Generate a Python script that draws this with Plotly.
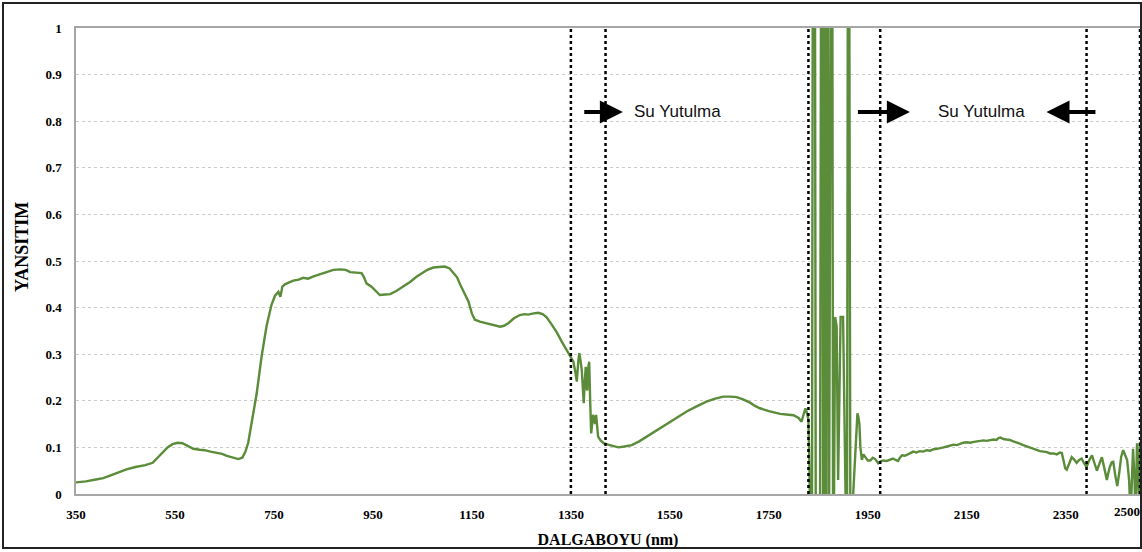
import plotly.graph_objects as go

# ---- data ----
wavelength = [
    350, 370, 390, 405, 420, 440, 452, 470, 490, 505, 515, 525, 535, 545, 555, 565, 575, 587, 600, 610,
    622, 634, 645, 655, 668, 678, 686, 692, 698, 705, 715, 725, 735, 745, 752, 759, 763, 767, 772, 789,
    800, 809, 819, 830, 843, 856, 870, 885, 895, 904, 915, 927, 932, 937, 947, 956, 964, 975, 985, 998,
    1011, 1025, 1038, 1050, 1060, 1072, 1085, 1095, 1105, 1112, 1120, 1127, 1133, 1143, 1150, 1156, 1166, 1180, 1195, 1207,
    1215, 1224, 1235, 1247, 1256, 1264, 1272, 1284, 1293, 1301, 1311, 1321, 1331, 1341, 1348, 1355, 1359, 1362, 1365, 1367,
    1369, 1372, 1374, 1376, 1378, 1380, 1382, 1383, 1385, 1387, 1389, 1391, 1393, 1395, 1397, 1399, 1401, 1403, 1405, 1410,
    1416, 1425, 1436, 1446, 1458, 1473, 1488, 1503, 1523, 1544, 1564, 1584, 1604, 1624, 1640, 1658, 1672, 1685, 1698, 1712,
    1722, 1732, 1750, 1773, 1790, 1800, 1810, 1816, 1820, 1824, 1828, 1830, 1832, 1834, 1837, 1839, 1843, 1845, 1848, 1853,
    1856, 1858, 1860, 1862, 1864, 1865, 1867, 1869, 1871, 1876, 1878, 1880, 1884, 1887, 1890, 1893, 1895, 1900, 1903, 1905,
    1908, 1910, 1912, 1915, 1918, 1921, 1924, 1927, 1929, 1931, 1933, 1935, 1938, 1941, 1944, 1947, 1950, 1955, 1960, 1965,
    1971, 1976, 1981, 1988, 1995, 2001, 2006, 2011, 2015, 2019, 2025, 2032, 2038, 2042, 2048, 2055, 2062, 2069, 2076, 2083,
    2090, 2096, 2103, 2110, 2116, 2123, 2130, 2137, 2143, 2150, 2157, 2164, 2170, 2177, 2184, 2190, 2197, 2204, 2210, 2214,
    2218, 2224, 2230, 2237, 2244, 2250, 2257, 2264, 2271, 2278, 2284, 2291, 2298, 2305, 2312, 2318, 2325, 2332, 2338, 2342,
    2346, 2349, 2352, 2357, 2362, 2367, 2372, 2377, 2382, 2387, 2392, 2397, 2403, 2408, 2413, 2418, 2423, 2428, 2433, 2436,
    2439, 2443, 2446, 2450, 2454, 2458, 2462, 2466, 2470, 2474, 2478, 2481, 2484, 2486, 2489, 2491, 2493, 2494, 2497, 2498,
    2500,
]
reflectance = [
    0.025, 0.027, 0.031, 0.034, 0.040, 0.048, 0.053, 0.058, 0.062, 0.067, 0.078, 0.090, 0.100, 0.107, 0.110, 0.109, 0.103, 0.097, 0.095, 0.094,
    0.091, 0.089, 0.086, 0.082, 0.078, 0.075, 0.078, 0.090, 0.110, 0.150, 0.215, 0.295, 0.360, 0.406, 0.425, 0.434, 0.423, 0.445, 0.450, 0.458,
    0.460, 0.464, 0.462, 0.467, 0.472, 0.477, 0.481, 0.482, 0.481, 0.476, 0.475, 0.474, 0.465, 0.452, 0.445, 0.435, 0.427, 0.428, 0.429, 0.436,
    0.445, 0.455, 0.466, 0.475, 0.481, 0.486, 0.488, 0.488, 0.484, 0.476, 0.465, 0.448, 0.434, 0.413, 0.387, 0.374, 0.370, 0.366, 0.361, 0.359,
    0.361, 0.367, 0.377, 0.384, 0.386, 0.385, 0.387, 0.389, 0.386, 0.379, 0.364, 0.348, 0.328, 0.309, 0.298, 0.284, 0.262, 0.241, 0.285, 0.302,
    0.290, 0.266, 0.230, 0.195, 0.240, 0.273, 0.230, 0.222, 0.270, 0.284, 0.200, 0.130, 0.150, 0.170, 0.160, 0.150, 0.170, 0.145, 0.123, 0.115,
    0.109, 0.106, 0.103, 0.100, 0.102, 0.105, 0.113, 0.123, 0.137, 0.152, 0.165, 0.177, 0.188, 0.198, 0.204, 0.209, 0.209, 0.208, 0.203, 0.196,
    0.189, 0.184, 0.178, 0.172, 0.170, 0.169, 0.163, 0.155, 0.170, 0.184, 0.170, 0.158, 0.060, -0.100, -0.200, 1.300, 1.300, -0.200, -0.300, -0.300,
    1.400, 1.400, -0.300, 1.400, 1.400, -0.300, 1.400, 1.400, -0.300, 1.400, 1.400, -0.300, 0.380, 0.360, 0.030, 0.200, 0.380, 0.380, 0.150, 0.000,
    -0.100, 1.400, 1.400, -0.200, -0.050, 0.020, 0.066, 0.150, 0.173, 0.165, 0.150, 0.100, 0.073, 0.085, 0.080, 0.075, 0.072, 0.072, 0.078, 0.075,
    0.066, 0.070, 0.072, 0.071, 0.074, 0.076, 0.073, 0.071, 0.078, 0.083, 0.082, 0.086, 0.088, 0.091, 0.089, 0.092, 0.091, 0.094, 0.093, 0.096,
    0.097, 0.098, 0.100, 0.102, 0.104, 0.106, 0.105, 0.108, 0.110, 0.111, 0.110, 0.112, 0.113, 0.113, 0.115, 0.114, 0.116, 0.117, 0.116, 0.120,
    0.121, 0.118, 0.117, 0.116, 0.113, 0.110, 0.108, 0.105, 0.102, 0.100, 0.097, 0.095, 0.092, 0.091, 0.090, 0.087, 0.087, 0.085, 0.089, 0.088,
    0.070, 0.055, 0.052, 0.068, 0.079, 0.074, 0.067, 0.073, 0.076, 0.066, 0.058, 0.072, 0.083, 0.066, 0.050, 0.065, 0.079, 0.055, 0.030, 0.045,
    0.058, 0.068, 0.069, 0.040, 0.017, 0.045, 0.080, 0.094, 0.085, 0.073, 0.030, -0.050, 0.040, 0.097, 0.030, -0.050, 0.060, 0.109, 0.020, -0.020,
    0.112,
]

x_tick_values = [350, 550, 750, 950, 1150, 1350, 1550, 1750, 1950, 2150, 2350]
x_last_tick = 2500
y_tick_values = [0, 0.1, 0.2, 0.3, 0.4, 0.5, 0.6, 0.7, 0.8, 0.9, 1]
y_tick_labels = ["0", "0.1", "0.2", "0.3", "0.4", "0.5", "0.6", "0.7", "0.8", "0.9", "1"]

band_limits = [1350, 1420, 1830, 1975, 2392, 2500]
band_label = "Su Yutulma"
band_label_x = [1566, 2179]
band_label_y = 0.82
# (tail, tip) of each arrow
arrows = [(1374, 1455), (1927, 2035), (2413, 2311)]

# ---- figure ----
W, H = 1142, 552
L, R, T, B = 76, 2, 28, 58
pw, ph = W - L - R, H - T - B

fig = go.Figure()
fig.add_trace(go.Scatter(
    x=wavelength, y=reflectance, mode="lines",
    line=dict(color="#5A8C3A", width=2.4), hoverinfo="skip",
))

shapes = []
for xv in band_limits:
    shapes.append(dict(type="line", xref="x", yref="paper", x0=xv, x1=xv, y0=0, y1=1,
                       line=dict(color="black", width=2.5, dash="3px,3px")))
# outer frame
shapes.append(dict(type="rect", xref="paper", yref="paper",
                   x0=(3 - L) / pw, x1=(W - 1 - L) / pw,
                   y0=-(H - 4 - (T + ph)) / ph, y1=1 + (T - 3) / ph,
                   line=dict(color="#222222", width=2), fillcolor="rgba(0,0,0,0)", layer="above"))

annotations = []
for xv in band_label_x:
    annotations.append(dict(x=xv, y=band_label_y, xref="x", yref="y", text=band_label,
                            showarrow=False, font=dict(family="Liberation Sans", size=17, color="#111111"),
                            xanchor="center", yanchor="middle"))
for tail, tip in arrows:
    annotations.append(dict(x=tip, y=band_label_y, ax=tail, ay=band_label_y, xref="x", yref="y",
                            axref="x", ayref="y", text="", showarrow=True, arrowhead=2,
                            arrowsize=1.15, arrowwidth=4, arrowcolor="black", standoff=0))
# last x tick label (sits at the right edge, so it is right-aligned like the reference)
annotations.append(dict(x=x_last_tick, y=0, xref="x", yref="paper", text=str(x_last_tick),
                        showarrow=False, xanchor="right", yanchor="top", yshift=-8, xshift=2,
                        font=dict(family="Liberation Serif", size=13, color="black", weight="bold")))
# y-axis title (placed like the reference, a little above the plot's centre)
annotations.append(dict(x=0, y=0.53, xref="paper", yref="paper", text="YANSITIM",
                        showarrow=False, textangle=-90, xanchor="center", yanchor="middle",
                        xshift=-(L - 22),
                        font=dict(family="Liberation Serif", size=18, color="black", weight="bold")))

fig.update_layout(
    width=W, height=H,
    margin=dict(l=L, r=R, t=T, b=B),
    paper_bgcolor="white", plot_bgcolor="white",
    showlegend=False,
    font=dict(family="Liberation Serif", color="black"),
    shapes=shapes, annotations=annotations,
    xaxis=dict(
        range=[350, 2500], tickvals=x_tick_values, ticktext=[str(v) for v in x_tick_values],
        showgrid=False, zeroline=False, showline=True, linecolor="#a6a6a6", linewidth=1.5, mirror=True,
        ticks="", ticklabelstandoff=8,
        tickfont=dict(family="Liberation Serif", size=13, color="black", weight="bold"),
        title=dict(text="DALGABOYU (nm)", standoff=12,
                   font=dict(family="Liberation Serif", size=16, color="black", weight="bold")),
    ),
    yaxis=dict(
        range=[0, 1], tickvals=y_tick_values, ticktext=y_tick_labels,
        showgrid=True, gridcolor="#cccccc", griddash="dot", gridwidth=1,
        zeroline=False, showline=True, linecolor="#a6a6a6", linewidth=1.5,
        ticks="", ticklabelstandoff=10,
        tickfont=dict(family="Liberation Serif", size=13, color="black", weight="bold"),
    ),
)

fig.write_html("out.html", config={"displayModeBar": False},
               post_script="document.body.style.margin='0px';document.body.style.overflow='hidden';")
